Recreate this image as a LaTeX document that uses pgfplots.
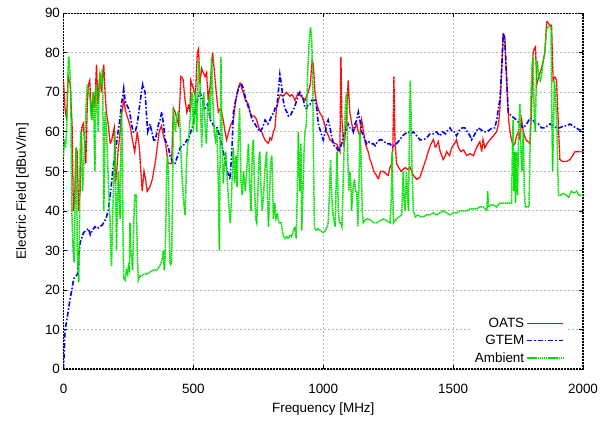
\documentclass[border=0pt]{standalone}
\usepackage{fontspec}
\setmainfont{Liberation Sans}
\usepackage{pgfplots}
\pgfplotsset{compat=1.18}
\definecolor{oats}{RGB}{255,0,0}
\definecolor{gtem}{RGB}{0,0,255}
\definecolor{amb}{RGB}{0,225,0}
\tikzset{
  oatsline/.style={color=oats, line width=1.3bp, dash pattern=on 1.5bp off 0.4bp},
  gtemline/.style={color=gtem, line width=1.6bp, dash pattern=on 5bp off 2bp on 1.5bp off 2bp},
  ambline/.style={color=amb, line width=1.5bp, dash pattern=on 1.5bp off 0.6bp}
}
\begin{document}
\begin{tikzpicture}
\useasboundingbox (-63.5bp,-55bp) rectangle (545.5bp,369bp);
\begin{axis}[
  at={(0,0)}, anchor=south west,
  scale only axis, width=519.5bp, height=355.7bp,
  xmin=0, xmax=2000, ymin=0, ymax=90,
  xtick={0,500,1000,1500,2000}, ytick={0,10,...,90},
  minor tick num=0,
  tick align=inside, major tick length=4bp,
  tick style={black, line width=0.8bp},
  grid=major,
  grid style={black!28, dash pattern=on 2bp off 2bp, line width=0.9bp},
  axis line style={black, line width=1.2bp, dash pattern=on 2bp off 1bp},
  /pgf/number format/assume math mode=true,
  /pgf/number format/1000 sep={},
  ticklabel style={font=\fontsize{13.5}{16}\selectfont},
  xticklabel style={yshift=-12bp},
  label style={font=\fontsize{13.5}{16}\selectfont},
  xlabel={Frequency [MHz]},
  xlabel style={at={(axis description cs:0.5,0)}, anchor=center, yshift=-40bp},
  ylabel={Electric Field [dBuV/m]},
  ylabel style={at={(axis description cs:0,0.5)}, anchor=center, rotate=0, yshift=41bp},
  legend style={at={(1,0)}, anchor=south east, xshift=-17bp, yshift=1bp,
    draw=none, fill=white, font=\fontsize{13.5}{16}\selectfont,
    row sep=2.5bp, inner sep=2bp},
  legend cell align=right,
  legend plot pos=right,
]
\addlegendimage{legend image code/.code={\draw[color=red, line width=1.4bp] (0bp,0bp) -- (36bp,0bp);}}
\addlegendentry{OATS}
\addlegendimage{legend image code/.code={\draw[gtemline] (0bp,0bp) -- (36bp,0bp);}}
\addlegendentry{GTEM}
\addlegendimage{legend image code/.code={\draw[ambline] (0bp,0bp) -- (36bp,0bp);}}
\addlegendentry{Ambient}
\addplot[oatsline, forget plot] coordinates {
(0,73) (6,66) (12,63) (18,74) (26,72) (33,62) (38,40) (43,43) (48,56) (53,55) (58,40) (64,45) (70,61) (76,62) (82,57) (86,52) (92,68) (96,72) (101,73) (108,63) (114,70) (120,66) (127,77) (133,67) (140,75) (146,70) (155,77) (160,70) (165,65) (172,62) (180,57) (186,58) (195,61) (200,47) (205,50) (210,55) (218,60) (225,65) (232,68) (240,65) (250,63) (258,61) (265,58) (274,55) (284,60) (292,56) (303,45) (310,50) (316,48) (322,45) (332,46) (342,48) (355,53) (368,60) (377,61.5) (385,59) (393,57) (403,52) (416,52) (423,66) (430,65) (442,62) (448,68) (452,74) (460,73.5) (468,68) (475,65) (482,67) (487,65) (490,73) (500,71) (508,69) (515,80) (520,81) (525,72) (532,76) (538,75) (545,74) (551,75) (557,68) (565,72) (574,80) (580,76) (588,70) (596,65) (605,66) (615,63) (622,60) (628,58) (636,60) (645,62) (654,63) (663,68) (673,71) (680,72.5) (686,71) (692,70) (700,68) (712,67) (718,65) (724,64) (735,64) (744,63) (752,61) (763,60) (775,58) (789,57) (795,58.5) (801,58) (808,60) (814,61) (820,66) (827,68) (835,69.5) (846,69) (858,70) (872,69) (880,69.5) (891,68) (898,69) (904,70) (915,69) (930,68) (936,69) (942,70) (950,72) (957,78) (962,77) (968,70) (975,67) (985,65) (995,64) (1005,62) (1013,60) (1020,59) (1026,58) (1035,57.5) (1045,57) (1051,57) (1058,56) (1064,55) (1068,79) (1072,63) (1080,56) (1088,62) (1096,73) (1102,65) (1110,62) (1116,60) (1122,61) (1129,62) (1135,60) (1141,59) (1148,63) (1155,60) (1162,57) (1173,55) (1180,53) (1186,52) (1195,50) (1205,49) (1212,48) (1220,50) (1231,50) (1240,49.5) (1250,49) (1257,51) (1263,52) (1268,56) (1272,74) (1276,58) (1282,52) (1290,51) (1300,50) (1315,51) (1325,50.5) (1334,51) (1347,49) (1360,48) (1372,48.5) (1385,51) (1395,53) (1404,55) (1415,57) (1424,58) (1432,56) (1443,57.5) (1450,55) (1462,53) (1470,54) (1475,55) (1486,54) (1495,56) (1505,57) (1513,58) (1520,56) (1530,55) (1540,55.5) (1552,54) (1565,54.5) (1578,54) (1590,56) (1603,57.5) (1610,55) (1615,58) (1622,56) (1630,57) (1642,58) (1655,59) (1667,60) (1675,62) (1680,66) (1686,74) (1693,85) (1699,84) (1704,76) (1708,70) (1714,63) (1719,60) (1725,58) (1731,56.5) (1738,57) (1744,59) (1752,60) (1757,58) (1764,63) (1770,60) (1780,58) (1788,57.5) (1796,57) (1802,66) (1808,80) (1812,81) (1817,81.5) (1822,72) (1830,74) (1840,76) (1847,78) (1853,80) (1860,88) (1866,87.5) (1873,87) (1879,87) (1885,73) (1892,74) (1898,73) (1905,62) (1911,53) (1920,52.5) (1937,52.5) (1950,53) (1960,54) (1969,55) (1982,55) (1994,55) (2000,55)
};
\addplot[gtemline, forget plot] coordinates {
(0,0) (3,5) (6,10) (12,12) (19,15) (26,18) (32,20) (37,22) (41,23) (48,23.5) (54,24) (58,28) (64,32) (70,33) (77,34.5) (86,35) (96,35.5) (103,34) (110,35) (121,36) (130,35.5) (140,36) (150,36.5) (163,38) (172,40) (178,43) (185,47) (191,51) (200,55) (210,60) (217,63) (223,67) (228,69) (232,71) (237,68) (242,67) (250,66) (255,65) (262,62) (268,60) (276,60) (284,62) (292,66) (300,70) (305,72) (314,70) (319,65) (324,60) (333,62) (340,60) (349,57.5) (357,59) (366,62) (372,63) (378,65) (385,62) (391,58) (398,57) (404,56) (410,54) (416,53) (422,52) (429,52) (440,54) (449,56) (458,56.5) (468,57) (475,58) (481,58) (490,60) (500,62) (508,66) (515,68) (526,70) (535,68) (545,66) (555,67) (565,63) (575,62) (583,61) (592,61) (600,59) (608,57) (615,55) (622,53) (630,50) (641,48) (648,55) (654,65) (663,68) (673,71) (680,72) (686,72) (692,71) (699,69) (708,67) (718,65) (727,63) (737,62) (746,61) (756,60) (766,61) (776,63) (787,62) (795,63) (801,64) (810,65) (815,66) (821,66) (827,70) (833,74.5) (839,72) (846,68) (852,66) (860,65) (866,64) (872,64) (880,65) (888,66) (898,68) (904,69) (910,70) (918,69) (924,68) (930,66) (936,66) (942,67) (949,67) (956,68) (962,68) (968,68) (975,66) (981,62) (990,60) (1000,58) (1008,60) (1013,62) (1019,63) (1026,61) (1032,59) (1039,57) (1045,56) (1052,56) (1058,55) (1065,56) (1071,57) (1077,59) (1086,60) (1096,62) (1103,61) (1110,61) (1116,60) (1122,62) (1129,63) (1135,65) (1141,63) (1148,60) (1155,59) (1161,58) (1167,57) (1175,57.5) (1184,57) (1193,57) (1200,56.5) (1208,57.5) (1218,58) (1225,58) (1235,57.5) (1245,57) (1257,57) (1262,56.5) (1270,56.5) (1282,57) (1295,58) (1305,59) (1315,59.5) (1325,60) (1337,59.5) (1347,60) (1360,59) (1372,58) (1385,58) (1398,58.5) (1411,59.5) (1424,59.5) (1436,60) (1449,59) (1460,60) (1470,59.5) (1480,60.5) (1488,61) (1497,60) (1505,60) (1513,59) (1525,60.5) (1535,61) (1545,61) (1555,60) (1565,59) (1571,58) (1580,59) (1588,60) (1597,61) (1608,60.5) (1618,60) (1629,60) (1640,60.5) (1650,61) (1660,61) (1668,63) (1674,66) (1680,68) (1687,76) (1693,85) (1699,83) (1705,75) (1712,65) (1718,64.5) (1725,64) (1735,63.5) (1744,63) (1757,62) (1770,61) (1783,62) (1796,63.5) (1808,63) (1818,62) (1828,62) (1840,61) (1853,61) (1863,61.5) (1873,62) (1885,61.5) (1898,61) (1910,61) (1924,61.5) (1937,61.5) (1950,62) (1960,61.5) (1975,61) (1985,60.5) (1994,60.5) (2000,60.5)
};
\addplot[ambline, forget plot] coordinates {
(0,54) (4,58) (8,56) (13,62) (17,75) (20,79) (24,76) (28,70) (32,40) (37,30) (41,27) (44,40) (48,56) (50,55) (53,30) (56,25) (59,22) (62,40) (64,55) (67,60) (70,58) (73,45) (77,50) (80,55) (83,60) (88,68) (92,72) (97,70) (103,68) (106,65) (109,63) (113,68) (116,70) (119,55) (121,50) (124,70) (127,72) (130,66) (134,60) (137,70) (140,74) (145,72) (150,76) (153,58) (155,40) (158,50) (160,65) (163,63) (166,60) (170,52) (174,45) (179,38) (182,30) (185,26) (188,35) (192,45) (195,52) (198,60) (201,45) (204,30) (207,40) (211,50) (214,45) (218,38) (220,50) (223,65) (226,60) (229,35) (232,23) (237,22.5) (242,25) (247,24) (250,26) (254,25) (256,37) (259,30) (263,28) (266,25) (270,35) (273,42) (275,44) (280,44) (284,30) (288,22.5) (293,23.5) (300,23.5) (310,24) (320,24) (333,24.5) (345,25) (359,25) (370,26) (376,27) (381,28) (384,30) (388,25) (391,28) (395,40) (397,50) (400,54) (404,50) (407,35) (410,27) (413,26.5) (416,27) (420,45) (423,66) (427,62) (431,60) (436,64) (442,65) (447,64) (452,55) (458,47) (463,42) (468,39) (471,45) (474,53) (478,57) (482,58) (488,64) (494,70) (497,68) (500,60) (504,65) (508,70) (513,60) (517,70) (520,78) (524,76) (528,65) (532,56) (536,66) (540,70) (545,62) (550,57) (555,66) (560,68) (565,63) (570,79) (575,68) (580,60) (585,58) (590,61) (595,50) (600,30) (603,55) (606,79) (610,60) (615,47) (620,52) (625,55) (630,48) (634,44) (638,40) (642,37) (646,42) (650,50) (654,56) (659,47) (664,54) (668,46) (673,58) (678,66) (683,48) (688,44) (693,50) (700,45) (707,52) (712,57) (716,48) (722,40) (727,56) (731,58) (736,45) (740,38) (744,37) (748,44) (752,53) (756,55) (760,46) (765,40) (770,44) (777,52) (782,55) (786,42) (789,36) (792,40) (797,52) (802,54) (805,47) (808,38) (813,42) (818,38) (823,39) (830,37) (838,37) (845,34) (853,33) (860,33.5) (866,33) (872,34) (878,33.5) (885,35) (891,36) (896,33) (900,45) (904,60) (907,52) (910,45) (914,57) (917,35) (922,45) (926,55) (930,60) (935,62) (940,75) (945,82) (951,86.5) (955,84) (959,76) (963,50) (966,36) (972,35) (980,35.5) (990,35) (1000,34.5) (1008,35) (1015,36) (1019,37) (1024,45) (1028,53) (1032,45) (1036,40) (1040,38) (1046,36) (1050,48) (1053,55) (1058,40) (1062,37) (1067,37) (1072,36) (1077,48) (1082,60) (1086,68) (1090,70) (1094,55) (1098,45) (1102,50) (1106,47) (1109,40) (1114,45) (1120,48) (1125,45) (1129,45) (1133,36) (1137,45) (1141,60) (1145,55) (1150,40) (1154,37) (1160,37.5) (1167,38) (1175,38) (1185,37.5) (1195,37) (1206,37) (1218,37.5) (1231,38) (1245,37.5) (1257,37) (1262,43) (1265,55) (1270,37) (1276,37.5) (1282,38) (1292,38.5) (1302,39) (1308,50) (1312,42) (1316,40) (1320,50) (1324,45) (1328,40) (1332,60) (1335,73) (1338,65) (1342,50) (1347,40) (1355,38.5) (1365,39) (1375,38.5) (1385,38.5) (1398,39) (1411,39) (1424,39.5) (1436,39) (1449,39.5) (1462,40) (1475,39.5) (1488,39) (1500,39.5) (1513,39.5) (1526,40) (1539,40) (1552,40) (1565,40.5) (1578,40.5) (1590,40.5) (1603,41) (1616,41) (1625,40.5) (1630,40) (1633,45) (1636,41) (1645,41.5) (1655,41.5) (1667,41) (1680,42) (1692,42) (1705,42) (1719,42) (1725,42) (1728,55) (1731,63) (1734,45) (1737,55) (1740,42) (1744,55) (1748,44) (1752,60) (1757,67) (1761,55) (1765,50) (1770,60) (1774,45) (1778,41) (1785,41) (1792,41) (1796,55) (1800,70) (1804,77) (1808,79) (1812,65) (1816,60) (1820,72) (1824,78) (1830,74) (1836,73) (1842,75) (1847,78) (1853,80) (1860,86) (1866,86.5) (1873,87) (1877,86) (1880,63) (1883,50) (1886,60) (1890,73) (1895,68) (1900,60) (1903,50) (1906,44) (1915,44) (1924,44.5) (1935,44) (1945,43.5) (1955,45) (1965,44.5) (1975,45) (1985,44) (1994,44) (2000,44)
};
\end{axis}
\end{tikzpicture}
\end{document}
